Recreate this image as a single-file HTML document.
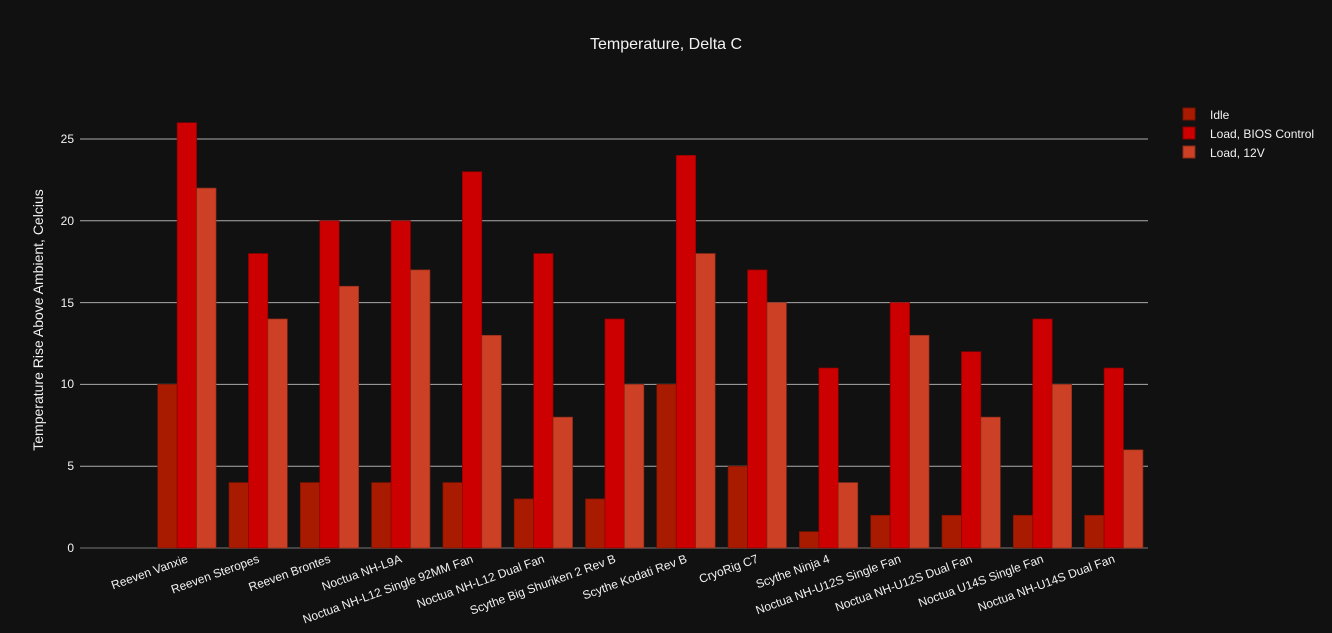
<!DOCTYPE html><html><head><style>body{margin:0;background:#111}</style></head><body>
<svg width="1332" height="628" xmlns="http://www.w3.org/2000/svg" font-family="'Liberation Sans',sans-serif">
<rect width="1332" height="628" fill="#111"/>
<text x="666" y="49" fill="#f2f2f2" font-size="16" text-anchor="middle">Temperature, Delta C</text>
<g stroke="#aaa" stroke-width="1">
<line x1="80" x2="1148" y1="466.2" y2="466.2"/><line x1="80" x2="1148" y1="384.4" y2="384.4"/><line x1="80" x2="1148" y1="302.6" y2="302.6"/><line x1="80" x2="1148" y1="220.8" y2="220.8"/><line x1="80" x2="1148" y1="139" y2="139"/>
</g>
<line x1="80" x2="1148" y1="548" y2="548" stroke="#444" stroke-width="2"/>
<g fill="#f2f2f2" font-size="12" text-anchor="end">
<text x="74" y="552">0</text><text x="74" y="470">5</text><text x="74" y="388">10</text><text x="74" y="307">15</text><text x="74" y="225">20</text><text x="74" y="143">25</text>
</g>
<text transform="translate(43,320) rotate(-90)" fill="#f2f2f2" font-size="14" text-anchor="middle">Temperature Rise Above Ambient, Celcius</text>
<g id="bars" stroke-width="0.7"></g>
<g id="labels" fill="#f2f2f2" font-size="12" text-anchor="end"></g>
<rect x="1183" y="108" width="12" height="12" fill="#a81b00" stroke="#7a1400"/>
<rect x="1183" y="127" width="12" height="12" fill="#cc0000" stroke="#8a0000"/>
<rect x="1183" y="146" width="12" height="12" fill="#cc4125" stroke="#8a2a18"/>
<g fill="#f2f2f2" font-size="12"><text x="1210" y="119">Idle</text><text x="1210" y="138">Load, BIOS Control</text><text x="1210" y="157">Load, 12V</text></g>
</svg>
<script>
const names=["Reeven Vanxie","Reeven Steropes","Reeven Brontes","Noctua NH-L9A","Noctua NH-L12 Single 92MM Fan","Noctua NH-L12 Dual Fan","Scythe Big Shuriken 2 Rev B","Scythe Kodati Rev B","CryoRig C7","Scythe Ninja 4","Noctua NH-U12S Single Fan","Noctua NH-U12S Dual Fan","Noctua U14S Single Fan","Noctua NH-U14S Dual Fan"];
const idle=[10,4,4,4,4,3,3,10,5,1,2,2,2,2],bios=[26,18,20,20,23,18,14,24,17,11,15,12,14,11],v12=[22,14,16,17,13,8,10,18,15,4,13,8,10,6];
const cols=[["#a81b00","#7a1400"],["#cc0000","#8a0000"],["#cc4125","#8a2a18"]];
const ns="http://www.w3.org/2000/svg";let b=document.getElementById("bars"),l=document.getElementById("labels");
const k=16.36;
names.forEach((n,i)=>{const x0=157.7+71.3*i;[idle,bios,v12].forEach((s,j)=>{const r=document.createElementNS(ns,"rect");const h=s[i]*k;r.setAttribute("x",x0+j*19.45);r.setAttribute("y",548-h);r.setAttribute("width",19.45);r.setAttribute("height",h);r.setAttribute("fill",cols[j][0]);r.setAttribute("stroke",cols[j][1]);b.appendChild(r);});
const t=document.createElementNS(ns,"text");const cx=x0+29;t.setAttribute("transform",`translate(${cx+2},${562}) rotate(-20)`);t.textContent=n;l.appendChild(t);});
</script>
</body></html>
